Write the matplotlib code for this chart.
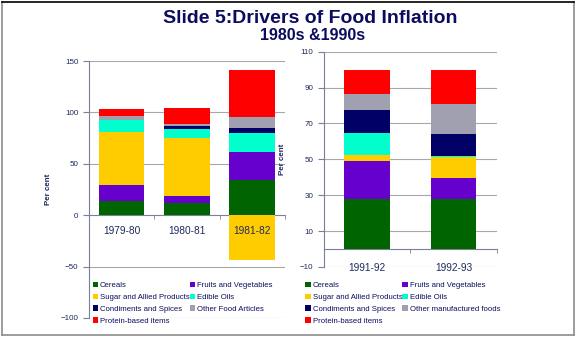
#!/usr/bin/env python3
"""Stacked bar charts: contribution of commodity groups to food inflation."""

import matplotlib
matplotlib.use("Agg")
import matplotlib.pyplot as plt
from matplotlib.patches import Patch
from matplotlib.lines import Line2D
import numpy as np

plt.rcParams["font.family"] = ["Liberation Sans", "DejaVu Sans"]

# --- data -------------------------------------------------------------
years_80s = ["1979-80", "1980-81", "1981-82"]
years_90s = ["1991-92", "1992-93"]

groups_80s = ["Cereals", "Fruits and Vegetables", "Sugar and Allied Products",
              "Edible Oils", "Condiments and Spices", "Other Food Articles",
              "Protein-based items"]
groups_90s = ["Cereals", "Fruits and Vegetables", "Sugar and Allied Products",
              "Edible Oils", "Condiments and Spices", "Other manufactured foods",
              "Protein-based items"]

cereals_80s = [13.6, 12.0, 33.8]
fruits_80s = [15.6, 6.8, 27.2]
sugar_80s = [51.3, 56.2, -43.8]
oils_80s = [12.0, 9.1, 19.2]
condiments_80s = [0.0, 2.3, 4.2]
other_80s = [4.3, 2.2, 10.7]
protein_80s = [6.4, 15.3, 45.8]

cereals_90s = [28.0, 27.7]
fruits_90s = [21.3, 11.7]
sugar_90s = [3.1, 11.9]
oils_90s = [12.5, 0.6]
condiments_90s = [12.8, 12.4]
other_90s = [8.9, 16.7]
protein_90s = [13.4, 19.0]

COLORS = ["#006400", "#6600CC", "#FFCC00", "#00FFCC",
          "#000066", "#A0A0B0", "#FF0000"]
NAVY = "#0C0C5E"
TEXT = "#1F2A5C"
AXIS = "#7A7F9A"
GRID = "#A8A8A8"


def stacked(ax, labels, series, width):
    x = np.arange(len(labels))
    pos = np.zeros(len(labels))
    neg = np.zeros(len(labels))
    for vals, color in zip(series, COLORS):
        vals = np.asarray(vals, dtype=float)
        bottom = np.where(vals >= 0, pos, neg)
        ax.bar(x, vals, width, bottom=bottom, color=color, zorder=2)
        pos += np.clip(vals, 0, None)
        neg += np.clip(vals, None, 0)
    return x


def style_axes(ax, labels, yticks, pad):
    # moving the spine rebuilds the ticks, so do it before styling them
    ax.spines["bottom"].set_position(("data", 0))
    ax.set_xlim(-0.5, len(labels) - 0.5)
    ax.set_ylim(yticks[0], yticks[-1])
    ax.set_yticks(yticks)
    ax.set_xticks(np.arange(len(labels)))
    ax.set_xticklabels(labels)
    ax.set_xticks(np.arange(len(labels) + 1) - 0.5, minor=True)
    ax.tick_params(axis="x", which="major", length=0, pad=pad,
                   labelsize=7.3, labelcolor=TEXT)
    ax.tick_params(axis="x", which="minor", length=3, color=AXIS,
                   direction="out")
    ax.tick_params(axis="y", labelsize=5.8, labelcolor=TEXT, length=4,
                   color=AXIS, width=0.8)
    for sp in ("bottom", "left"):
        ax.spines[sp].set_color(AXIS)
        ax.spines[sp].set_zorder(1)
    ax.spines["top"].set_visible(False)
    ax.spines["right"].set_visible(False)
    # gridlines sit behind the bars, tick labels are drawn above them
    ax.set_axisbelow(False)
    for y in yticks:
        if y != 0:
            ax.axhline(y, color=GRID, linewidth=0.8, zorder=0)
    ax.set_ylabel("Per cent", fontsize=5.8, color=TEXT, fontweight="bold")


fig = plt.figure(figsize=(5.76, 3.38), dpi=100)

# --- 1980s ------------------------------------------------------------
ax1 = fig.add_axes([0.1545, 0.0592, 0.340, 0.7603])
stacked(ax1, years_80s, [cereals_80s, fruits_80s, sugar_80s, oils_80s,
                         condiments_80s, other_80s, protein_80s], 0.7)
style_axes(ax1, years_80s, [-100, -50, 0, 50, 100, 150], pad=8)
ax1.yaxis.labelpad = 6

# --- 1990s ------------------------------------------------------------
ax2 = fig.add_axes([0.5625, 0.2101, 0.300, 0.6370])
stacked(ax2, years_90s, [cereals_90s, fruits_90s, sugar_90s, oils_90s,
                         condiments_90s, other_90s, protein_90s], 0.53)
style_axes(ax2, years_90s, [-10, 10, 30, 50, 70, 90, 110], pad=10)
ax2.yaxis.labelpad = 10

# --- legends (row-wise order, two columns) -----------------------------
order = [0, 2, 4, 6, 1, 3, 5]
for names, x0 in [(groups_80s, 0.161), (groups_90s, 0.530)]:
    handles = [Patch(facecolor=COLORS[i], label=names[i]) for i in order]
    fig.legend(handles=handles, loc="upper left", bbox_to_anchor=(x0, 0.166),
               ncol=2, frameon=False, fontsize=5.6, labelcolor=NAVY,
               handlelength=0.7, handleheight=0.7, handletextpad=0.25,
               columnspacing=0.0, labelspacing=0.55, borderpad=0,
               borderaxespad=0)

# --- titles -------------------------------------------------------------
fig.text(0.538, 0.944, "Slide 5:Drivers of Food Inflation", ha="center",
         va="center", fontsize=14, fontweight="bold", color=NAVY)
fig.text(0.542, 0.896, "1980s &1990s", ha="center", va="center",
         fontsize=11.5, fontweight="bold", color=NAVY)

# --- slide frame ----------------------------------------------------------
frame = "#8C8C8C"
fig.add_artist(Line2D([0.003, 0.003], [0.008, 0.994], color=frame, lw=1.2))
fig.add_artist(Line2D([0.997, 0.997], [0.008, 0.994], color=frame, lw=1.2))
fig.add_artist(Line2D([0.003, 0.997], [0.008, 0.008], color=frame, lw=1.2))
fig.add_artist(Line2D([0.003, 0.997], [0.994, 0.994], color="black", lw=1.2))

fig.savefig("out.png", dpi=100)
plt.close(fig)
